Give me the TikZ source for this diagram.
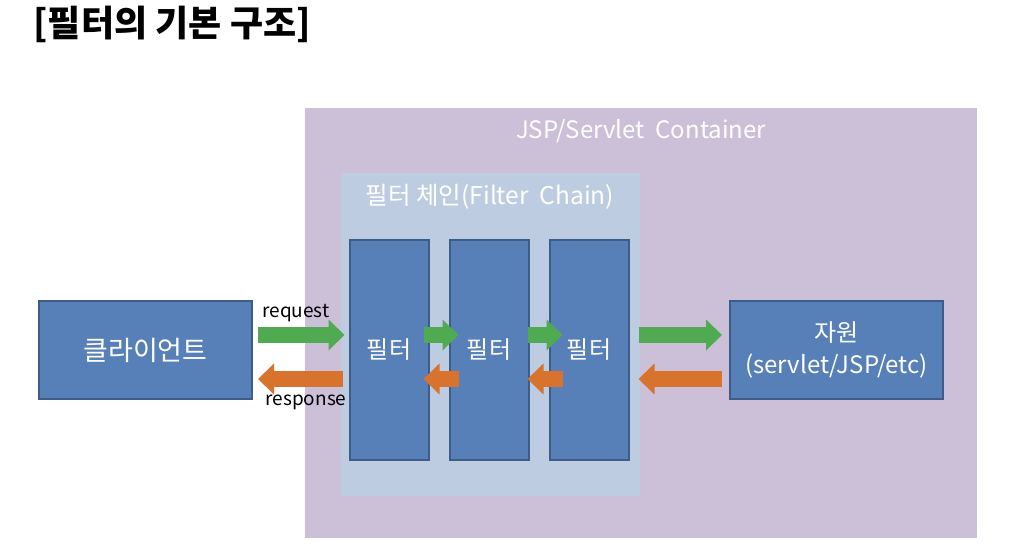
\documentclass[tikz,border=0pt]{standalone}
\usepackage{fontspec}
\setmainfont{Noto Sans CJK KR}
\usetikzlibrary{arrows.meta}

\definecolor{boxblue}{RGB}{88,128,184}
\definecolor{boxedge}{RGB}{62,92,136}
\definecolor{chainbg}{RGB}{190,204,226}
\definecolor{contbg}{RGB}{203,192,216}
\definecolor{reqgreen}{RGB}{80,170,82}
\definecolor{resorange}{RGB}{216,115,45}

\begin{document}
\begin{tikzpicture}[x=1pt,y=-1pt,
	box/.style={draw=boxedge, line width=2pt, fill=boxblue, text=white, align=center, inner sep=0pt},
	reqarrow/.style={draw=reqgreen, line width=16pt, -{Triangle[length=16pt,width=30pt]}},
	resarrow/.style={draw=resorange, line width=16pt, -{Triangle[length=16pt,width=30pt]}}]
			\useasboundingbox (0,0) rectangle (1017,559);
			%title
			\node[anchor=west, font=\fontsize{36}{42}\selectfont\bfseries] (title) at (30,24) {[필터의 기본 구조]};
			%container and filter chain
			\node[fill=contbg, minimum width=672, minimum height=430, inner sep=0pt] (cont) at (641,323) {};
			\node[text=white, font=\fontsize{24}{28}\selectfont] (contlabel) at (641,131) {JSP/Servlet\ \ Container};
			\node[fill=chainbg, minimum width=299, minimum height=323, inner sep=0pt] (chain) at (490.5,334.5) {};
			\node[text=white, font=\fontsize{24.5}{28}\selectfont] (chainlabel) at (490,197) {필터 체인(Filter\ \ Chain)};
			%filters
			\foreach \x/\n in {389/f1, 489/f2, 589/f3}
				\node[box, minimum width=79, minimum height=220, font=\fontsize{24}{28}\selectfont] (\n) at (\x,350) {필터};
			%client and resource
			\node[box, minimum width=213, minimum height=98, font=\fontsize{27}{32}\selectfont] (client) at (145.5,350) {클라이언트};
			\node[box, minimum width=213, minimum height=98, font=\fontsize{24}{32}\selectfont] (res) at (836.5,350) {자원\\(servlet/JSP/etc)};
			%request arrows
			\draw[reqarrow] ([xshift=5,yshift=15]client.east) -- ([xshift=-4,yshift=15]f1.west);
			\draw[reqarrow] ([xshift=-6,yshift=15]f1.east) -- ([xshift=10,yshift=15]f2.west);
			\draw[reqarrow] ([xshift=-2,yshift=15]f2.east) -- ([xshift=14,yshift=15]f3.west);
			\draw[reqarrow] ([xshift=9,yshift=15]f3.east) -- ([xshift=-7,yshift=15]res.west);
			%response arrows
			\draw[resarrow] ([xshift=-7,yshift=-29]res.west) -- ([xshift=9,yshift=-29]f3.east);
			\draw[resarrow] ([xshift=14,yshift=-29]f3.west) -- ([xshift=-2,yshift=-29]f2.east);
			\draw[resarrow] ([xshift=10,yshift=-29]f2.west) -- ([xshift=-6,yshift=-29]f1.east);
			\draw[resarrow] ([xshift=-6,yshift=-29]f1.west) -- ([xshift=5,yshift=-29]client.east);
			%labels
			\node[font=\fontsize{19}{22}\selectfont] (reqlabel) at (296,313) {request};
			\node[font=\fontsize{19}{22}\selectfont] (reslabel) at (306,402) {response};
		\end{tikzpicture}
\end{document}
